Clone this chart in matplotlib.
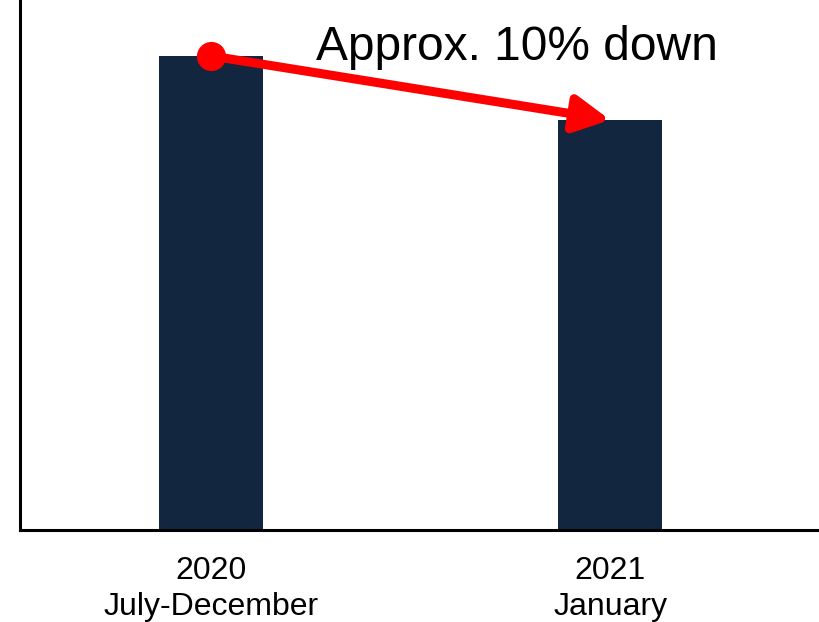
import numpy as np
import matplotlib
matplotlib.use('Agg')
import matplotlib.pyplot as plt

plt.rcParams['font.family'] = ['Liberation Sans', 'DejaVu Sans']

# period labels and relative volume for each period
periods = ['2020\nJuly-December', '2021\nJanuary']
volume = [100.0, 86.5]
note = 'Approx. 10% down'

bar_color = '#13263f'

fig = plt.figure(figsize=(8.2, 6.22), dpi=100)
ax = fig.add_axes([20 / 820, 92 / 622, 800 / 820, 530 / 622])

x = np.arange(len(periods))
ax.bar(x, volume, width=0.26, color=bar_color, zorder=2)

ax.set_xlim(-0.479, 1.526)
ax.set_ylim(0, 111.8)

# red arrow from the first bar top to the second
ax.annotate('', xy=(x[1], volume[1]), xytext=(x[0], volume[0]),
            arrowprops=dict(arrowstyle='-|>,head_length=1.05,head_width=0.55',
                            color='#ff0000', lw=6.5, mutation_scale=20,
                            shrinkA=0, shrinkB=0),
            zorder=4)
ax.plot(x[0], volume[0], 'o', color='#ff0000', markersize=20, zorder=5)

ax.text(0.262, volume[0] + 1.8, note, fontsize=34.5, ha='left', va='center')

ax.set_xticks(x)
ax.set_xticklabels(periods, fontsize=23, linespacing=1.25)
ax.tick_params(axis='x', length=0, pad=19)
ax.set_yticks([])

for side in ['top', 'right']:
    ax.spines[side].set_visible(False)
for side in ['left', 'bottom']:
    ax.spines[side].set_linewidth(2.2)
    ax.spines[side].set_color('black')

fig.savefig('out.png', dpi=100)
